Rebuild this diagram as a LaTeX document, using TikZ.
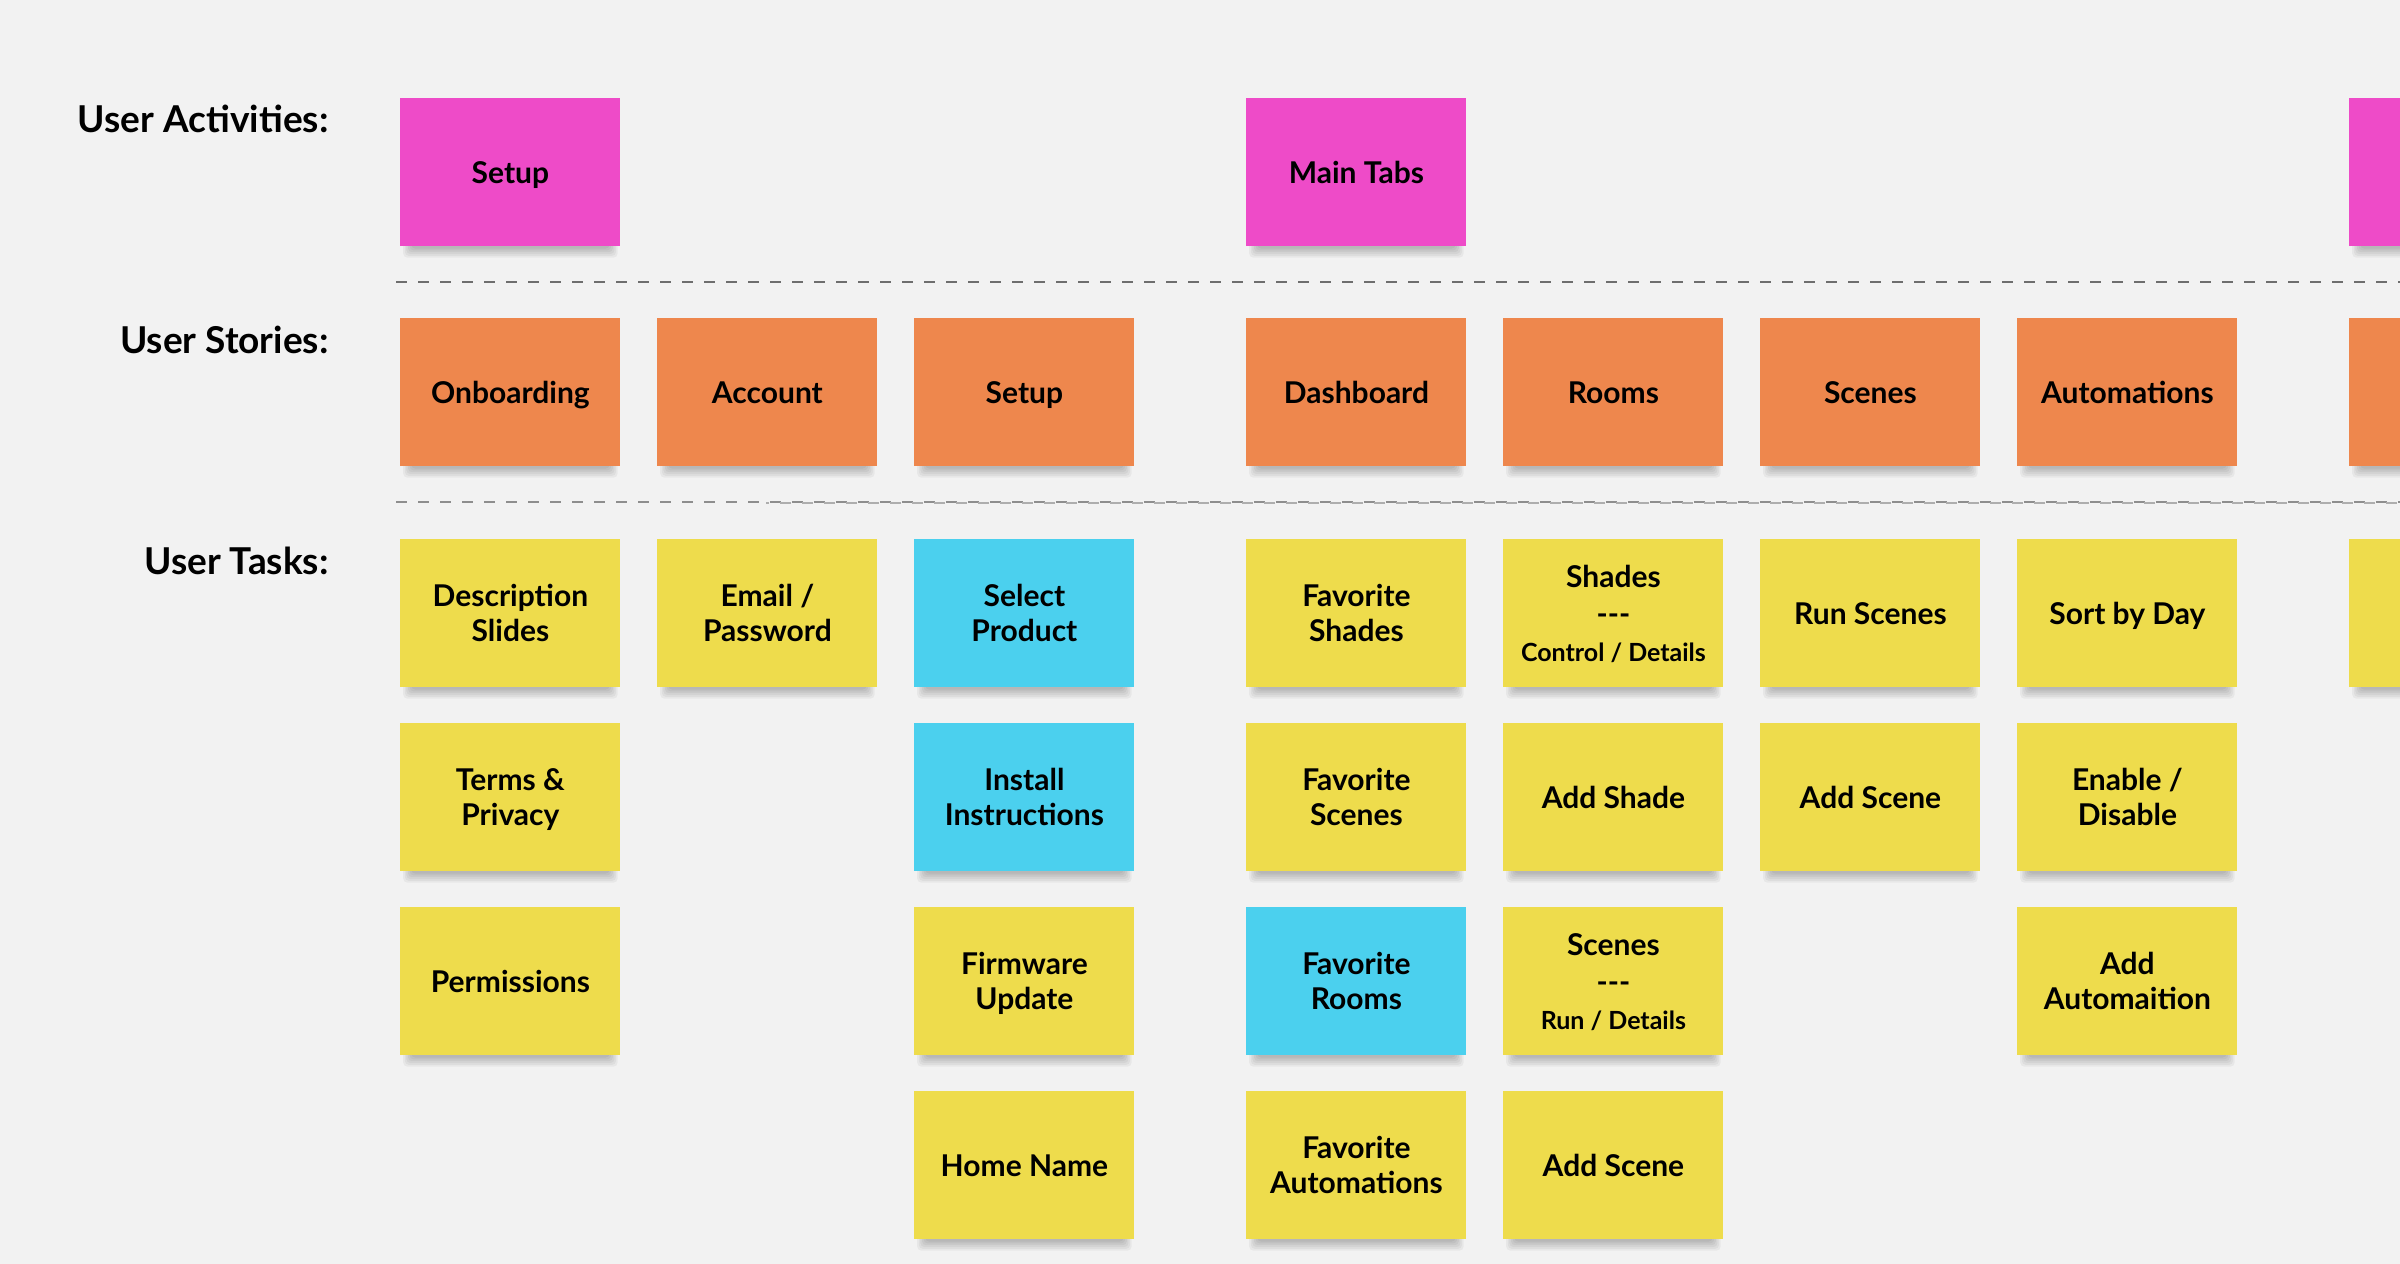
\documentclass[tikz,border=0pt]{standalone}
\usepackage{fontspec}
\setmainfont{Lato}
\newfontfamily\stickyfont{Lato Bold}
\newfontfamily\labelfont{Lato Bold}
\definecolor{cbg}{HTML}{F2F2F2}
\definecolor{cpink}{HTML}{EE4BC8}
\definecolor{corange}{HTML}{EE874D}
\definecolor{cyellow}{HTML}{EEDC4C}
\definecolor{ccyan}{HTML}{4BD0EE}
\definecolor{cdashA}{HTML}{6E6E6E}
\definecolor{cdashB}{HTML}{8E8E8E}
\definecolor{cdashC}{HTML}{AEAEAE}
\pgfdeclarelayer{bglayer}
\pgfdeclarelayer{shadowlayer}
\pgfsetlayers{bglayer,shadowlayer,main}
\tikzset{
  sticky/.style={minimum width=110pt, minimum height=74pt, inner sep=0pt,
    anchor=north west, align=center, text=black,
    font=\stickyfont\fontsize{15}{17.5}\selectfont,
    text height=10.75pt, text depth=0pt},
  two/.style={text height=28.25pt},
  three/.style={text height=47.75pt},
  act/.style={sticky, fill=cpink},
  story/.style={sticky, fill=corange},
  task/.style={sticky, fill=cyellow},
  taskb/.style={sticky, fill=ccyan},
  rowlabel/.style={anchor=base east, inner sep=0pt,
    font=\labelfont\fontsize{18.5}{22}\selectfont},
  sep/.style={line width=1pt, dash pattern=on 5.5pt off 5.5pt},
  shadowpiece/.style={fill=black, fill opacity=0.045, draw=none, rounded corners=2pt},
}
\newcommand{\smalltxt}{\fontsize{12.5}{17.5}\selectfont}
\begin{document}
\begin{tikzpicture}[x=0.5pt, y=-0.5pt]
  \begin{pgfonlayer}{bglayer}
    \fill[cbg] (0,0) rectangle (2400,1264);
  \end{pgfonlayer}
  \useasboundingbox (0,0) rectangle (2400,1264);

  % row labels
  \node[rowlabel] (lact) at (329,132) {User Activities:};
  \node[rowlabel] (lsto) at (329,353) {User Stories:};
  \node[rowlabel] (ltas) at (329,574) {User Tasks:};

  % separators
  \coordinate (s1a) at (396,282);
  \coordinate (s1b) at (2400,282);
  \coordinate (s2a) at (396,502);
  \coordinate (s2b) at (2400,502);
  \coordinate (s3a) at (766,503);
  \coordinate (s3b) at (2400,503);
  \draw[sep, cdashA] (s1a) -- (s1b);
  \draw[sep, cdashB] (s2a) -- (s2b);
  \draw[sep, cdashC, dash phase=4pt] (s3a) -- (s3b);

  % activities
  \node[act] (a1) at (400,98) {Setup};
  \node[act] (a4) at (1246,98) {Main Tabs};
  \node[act] (a8) at (2349,98) {};

  % stories
  \node[story] (u1) at (400,318) {Onboarding};
  \node[story] (u2) at (657,318) {Account};
  \node[story] (u3) at (914,318) {Setup};
  \node[story] (u4) at (1246,318) {Dashboard};
  \node[story] (u5) at (1503,318) {Rooms};
  \node[story] (u6) at (1760,318) {Scenes};
  \node[story] (u7) at (2017,318) {Automations};
  \node[story] (u8) at (2349,318) {};

  % tasks column 1
  \node[task, two] (t11) at (400,539) {Description\\Slides};
  \node[task, two] (t12) at (400,723) {Terms \&\\Privacy};
  \node[task] (t13) at (400,907) {Permissions};
  % column 2
  \node[task, two] (t21) at (657,539) {Email /\\Password};
  % column 3
  \node[taskb, two] (t31) at (914,539) {Select\\Product};
  \node[taskb, two] (t32) at (914,723) {Install\\Instructions};
  \node[task, two] (t33) at (914,907) {Firmware\\Update};
  \node[task] (t34) at (914,1091) {Home Name};
  % column 4
  \node[task, two] (t41) at (1246,539) {Favorite\\Shades};
  \node[task, two] (t42) at (1246,723) {Favorite\\Scenes};
  \node[taskb, two] (t43) at (1246,907) {Favorite\\Rooms};
  \node[task, two] (t44) at (1246,1091) {Favorite\\Automations};
  % column 5
  \node[task, three] (t51) at (1503,539) {Shades\\[1pt]-{}-{}-\\[1pt]{\smalltxt Control / Details}};
  \node[task] (t52) at (1503,723) {Add Shade};
  \node[task, three] (t53) at (1503,907) {Scenes\\[1pt]-{}-{}-\\[1pt]{\smalltxt Run / Details}};
  \node[task] (t54) at (1503,1091) {Add Scene};
  % column 6
  \node[task] (t61) at (1760,539) {Run Scenes};
  \node[task] (t62) at (1760,723) {Add Scene};
  % column 7
  \node[task] (t71) at (2017,539) {Sort by Day};
  \node[task, two] (t72) at (2017,723) {Enable /\\Disable};
  \node[task, two] (t73) at (2017,907) {Add\\Automaition};
  % column 8
  \node[task] (t81) at (2349,539) {};

  % soft shadows under the notes
  \begin{pgfonlayer}{shadowlayer}
    \foreach \n in {a1,a4,a8,u1,u2,u3,u4,u5,u6,u7,u8,t11,t12,t13,t21,t31,t32,t33,t34,t41,t42,t43,t44,t51,t52,t53,t54,t61,t62,t71,t72,t73,t81} {
      \foreach \k in {1,...,6} {
        \fill[shadowpiece]
          ([xshift={0.8pt*(8-\k)}, yshift=10pt]\n.south west) rectangle
          ([xshift={-0.8pt*(8-\k)}, yshift={-0.9pt*\k}]\n.south east);
      }
    }
  \end{pgfonlayer}
\end{tikzpicture}
\end{document}
